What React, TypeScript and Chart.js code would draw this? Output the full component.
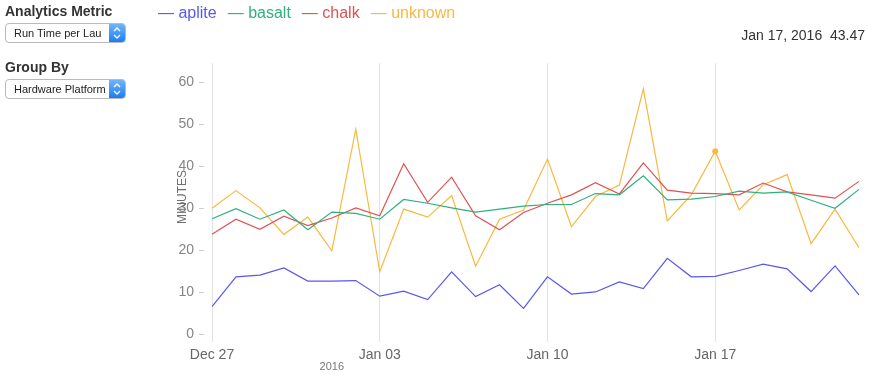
import React, { useEffect, useRef } from 'react';
import { Chart, registerables } from 'chart.js';

Chart.register(...registerables);

const categories = [
  'Dec 27', 'Dec 28', 'Dec 29', 'Dec 30', 'Dec 31', 'Jan 01', 'Jan 02',
  'Jan 03', 'Jan 04', 'Jan 05', 'Jan 06', 'Jan 07', 'Jan 08', 'Jan 09',
  'Jan 10', 'Jan 11', 'Jan 12', 'Jan 13', 'Jan 14', 'Jan 15', 'Jan 16',
  'Jan 17', 'Jan 18', 'Jan 19', 'Jan 20', 'Jan 21', 'Jan 22', 'Jan 23',
];
const xTickLabels = ['Dec 27', 'Jan 03', 'Jan 10', 'Jan 17'];
const yearLabel = '2016';
const yearCategory = 'Jan 01';
const yTicks = [0, 10, 20, 30, 40, 50, 60];

const aplite = [6.5, 13.6, 14.0, 15.7, 12.6, 12.6, 12.7, 9.0, 10.2, 8.2, 14.8, 8.9, 11.7, 6.1, 13.6, 9.5, 10.0, 12.4, 10.8, 18.0, 13.6, 13.7, 15.1, 16.6, 15.5, 10.1, 16.2, 9.3];
const basalt = [27.4, 29.8, 27.3, 29.5, 24.8, 29.0, 28.7, 27.3, 32.0, 31.1, 30.0, 29.0, 29.7, 30.4, 30.8, 30.8, 33.4, 33.1, 37.6, 31.9, 32.1, 32.7, 34.0, 33.5, 33.8, 31.8, 29.9, 34.4];
const chalk = [23.7, 27.3, 24.9, 28.0, 25.8, 27.6, 30.0, 28.1, 40.5, 31.3, 37.3, 28.1, 24.8, 28.9, 31.1, 33.1, 36.0, 33.3, 40.7, 34.2, 33.5, 33.4, 33.1, 35.9, 33.8, 33.1, 32.3, 36.3];
const unknown = [29.9, 34.1, 30.0, 23.7, 27.8, 19.8, 48.7, 14.8, 29.7, 27.8, 32.9, 16.1, 27.3, 29.5, 41.6, 25.5, 32.7, 35.4, 58.3, 26.9, 33.1, 43.47, 29.5, 35.5, 37.9, 21.5, 29.7, 20.5];

const seriesNames = ['aplite', 'basalt', 'chalk', 'unknown'];
const seriesColors = ['#5858ee', '#2fb07c', '#e05252', '#f9b83f'];
const hoverCategory = 'Jan 17';
const hoverText = 'Jan 17, 2016  43.47';

const FONT = "'Liberation Sans', Arial, Helvetica, sans-serif";

const decorPlugin = {
  id: 'decor',
  afterDraw(chart: any) {
    const { ctx, chartArea, scales } = chart;
    const y = scales.y;
    const x = scales.x;
    ctx.save();
    ctx.strokeStyle = '#cfcfcf';
    ctx.lineWidth = 1;
    yTicks.forEach((v) => {
      const py = Math.round(y.getPixelForValue(v)) + 0.5;
      ctx.beginPath();
      ctx.moveTo(chartArea.left - 13, py);
      ctx.lineTo(chartArea.left - 8, py);
      ctx.stroke();
    });
    ctx.fillStyle = '#777';
    ctx.font = `11px ${FONT}`;
    ctx.textAlign = 'center';
    ctx.textBaseline = 'middle';
    ctx.fillText(yearLabel, x.getPixelForValue(categories.indexOf(yearCategory)), chartArea.bottom + 25);
    ctx.translate(chartArea.left - 29, chartArea.top + 134);
    ctx.rotate(-Math.PI / 2);
    ctx.fillStyle = '#6f6f6f';
    ctx.font = `12px ${FONT}`;
    ctx.fillText('MINUTES', 0, 0);
    ctx.restore();
  },
};

function SelectBox({ text, top }: { text: string; top: number }) {
  return (
    <div
      style={{
        position: 'absolute',
        left: 5,
        top,
        width: 119,
        height: 18,
        border: '1px solid #b9b9b9',
        borderRadius: 4,
        background: '#fff',
        boxSizing: 'content-box',
        overflow: 'hidden',
      }}
    >
      <div
        style={{
          position: 'absolute',
          left: 8,
          top: 0,
          lineHeight: '18px',
          fontSize: 11,
          color: '#222',
          fontFamily: FONT,
          whiteSpace: 'nowrap',
        }}
      >
        {text}
      </div>
      <div
        style={{
          position: 'absolute',
          right: 0,
          top: 0,
          width: 16,
          height: 18,
          background: 'linear-gradient(#6fb5fb, #1b7ef2)',
        }}
      >
        <svg width="16" height="18" style={{ display: 'block' }}>
          <polyline points="5,7 8,4 11,7" fill="none" stroke="#fff" strokeWidth="1.4" />
          <polyline points="5,11 8,14 11,11" fill="none" stroke="#fff" strokeWidth="1.4" />
        </svg>
      </div>
    </div>
  );
}

export default function App() {
  const canvasRef = useRef<HTMLCanvasElement | null>(null);

  useEffect(() => {
    if (!canvasRef.current) return;
    const hoverIdx = categories.indexOf(hoverCategory);
    const allData = [aplite, basalt, chalk, unknown];
    const chart = new Chart(canvasRef.current, {
      type: 'line',
      data: {
        labels: categories,
        datasets: allData.map((d, i) => ({
          label: seriesNames[i],
          data: d,
          borderColor: seriesColors[i],
          backgroundColor: seriesColors[i],
          borderWidth: 1.2,
          tension: 0,
          pointRadius: i === 3 ? d.map((_, j) => (j === hoverIdx ? 3 : 0)) : 0,
          pointBorderWidth: 0,
          fill: false,
        })),
      },
      options: {
        responsive: false,
        animation: false,
        devicePixelRatio: 1,
        layout: { padding: { left: 0, right: 16, top: 63, bottom: 0 } },
        plugins: {
          legend: { display: false },
          tooltip: { enabled: false },
        },
        events: [],
        scales: {
          x: {
            type: 'category',
            offset: false,
            border: { display: false },
            grid: { color: '#e3e3e3', lineWidth: 1, drawTicks: false },
            ticks: {
              autoSkip: false,
              maxRotation: 0,
              padding: 5,
              color: '#666',
              font: { family: FONT, size: 14 },
              callback: function (this: any, val: any) {
                const lab = this.getLabelForValue(val);
                return xTickLabels.includes(lab) ? lab : null;
              },
            },
            afterFit: (s: any) => {
              s.height = 41;
            },
          },
          y: {
            min: -1.9,
            max: 64.45,
            border: { display: false },
            grid: { display: false, drawTicks: false },
            ticks: {
              padding: 18,
              color: '#858585',
              font: { family: FONT, size: 14 },
            },
            afterBuildTicks: (axis: any) => {
              axis.ticks = yTicks.map((v) => ({ value: v }));
            },
            afterFit: (s: any) => {
              s.width = 212;
            },
          },
        },
      },
      plugins: [decorPlugin],
    });
    return () => chart.destroy();
  }, []);

  return (
    <div
      style={{
        position: 'absolute',
        left: 0,
        top: 0,
        width: 875,
        height: 383,
        background: '#fff',
        overflow: 'hidden',
        fontFamily: FONT,
      }}
    >
      <canvas
        ref={canvasRef}
        width={875}
        height={383}
        style={{ position: 'absolute', left: 0, top: 0, width: 875, height: 383 }}
      />
      <div style={{ position: 'absolute', left: 5, top: 3, fontSize: 14, fontWeight: 'bold', color: '#333', whiteSpace: 'nowrap' }}>
        Analytics Metric
      </div>
      <SelectBox text="Run Time per Lau" top={23} />
      <div style={{ position: 'absolute', left: 5, top: 59, fontSize: 14, fontWeight: 'bold', color: '#333', whiteSpace: 'nowrap' }}>
        Group By
      </div>
      <SelectBox text="Hardware Platform" top={79} />
      <div style={{ position: 'absolute', left: 158, top: 4, fontSize: 16, whiteSpace: 'nowrap', display: 'flex', gap: 11 }}>
        {seriesNames.map((n, i) => (
          <span key={n} style={{ color: seriesColors[i] }}>
            {'\u2014 '}
            {n}
          </span>
        ))}
      </div>
      <div style={{ position: 'absolute', right: 10, top: 27, fontSize: 14, color: '#333', whiteSpace: 'pre' }}>
        {hoverText}
      </div>
    </div>
  );
}
